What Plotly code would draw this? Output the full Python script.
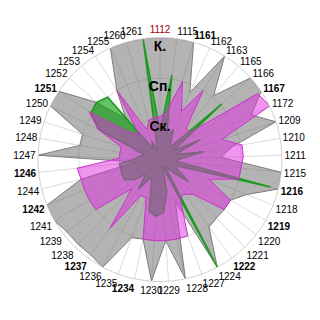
import plotly.graph_objects as go

categories = ["1112", "1115", "1161", "1162", "1163", "1165", "1166", "1167", "1172", "1209",
              "1210", "1211", "1215", "1216", "1218", "1219", "1220", "1221", "1222", "1224",
              "1227", "1228", "1229", "1230", "1234", "1235", "1236", "1237", "1238", "1239",
              "1241", "1242", "1244", "1246", "1247", "1248", "1249", "1250", "1251", "1252",
              "1253", "1254", "1255", "1260", "1261"]
bold_ticks = ["1161", "1167", "1216", "1219", "1222", "1234", "1237", "1242", "1246", "1251"]
red_ticks = ["1112"]

# К. (grey)
k_values = [3.0, 3.0, 3.0, 1.8, 3.0, 2.05, 3.0, 3.0, 2.5, 3.0,
            1.8, 1.5, 3.0, 3.0, 2.3, 2.0, 2.0, 2.0, 2.05, 3.0,
            1.1, 3.0, 2.0, 3.0, 2.0, 2.05, 3.0, 2.9, 2.9, 2.9,
            3.0, 3.0, 2.0, 0.6, 3.0, 2.0, 2.0, 3.0, 3.0, 2.1,
            1.3, 2.0, 3.0, 3.0, 3.0]
# Ск. (green)
sk_values = [0.7, 2.1, 0.6, 0.8, 0.5, 0.4, 2.05, 0.4, 1.1, 0.4,
             1.1, 0.5, 0.4, 2.8, 0.4, 0.5, 0.9, 0.4, 0.2, 3.0,
             0.2, 0.8, 1.3, 1.4, 1.3, 0.6, 0.5, 0.9, 0.5, 0.8,
             1.0, 1.0, 1.0, 1.0, 0.6, 0.5, 0.4, 1.65, 2.05, 2.1,
             2.0, 0.3, 0.5, 0.2, 3.0]
# Сп. (magenta)
sp_values = [1.05, 1.2, 2.0, 1.3, 2.0, 1.0, 1.0, 2.9, 3.0, 1.6,
             2.05, 2.05, 2.0, 2.0, 1.3, 2.0, 2.0, 1.2, 1.05, 1.05,
             2.0, 2.0, 2.0, 2.0, 2.0, 1.0, 1.0, 2.1, 1.0, 2.0,
             2.0, 2.0, 2.0, 2.05, 1.0, 1.0, 1.0, 1.7, 2.1, 1.0,
             0.8, 2.0, 0.8, 1.0, 1.05]
level_labels = ["Ск.", "Сп.", "К."]
level_values = [0.78, 1.77, 2.76]


def closed(v):
    return list(v) + list(v[:1])


theta = closed(categories)

tick_text = []
for c in categories:
    if c in red_ticks:
        tick_text.append("<span style='color:#a00000'>" + c + "</span>")
    elif c in bold_ticks:
        tick_text.append("<b>" + c + "</b>")
    else:
        tick_text.append(c)

fig = go.Figure()
fig.add_trace(go.Scatterpolar(r=closed(k_values), theta=theta, mode="lines", fill="toself",
                              fillcolor="rgba(110,110,110,0.52)",
                              line=dict(color="#7c7c7c", width=1)))
fig.add_trace(go.Scatterpolar(r=closed(sk_values), theta=theta, mode="lines", fill="toself",
                              fillcolor="rgba(0,155,0,0.6)",
                              line=dict(color="#1e9a1e", width=1.5)))
fig.add_trace(go.Scatterpolar(r=closed(sp_values), theta=theta, mode="lines", fill="toself",
                              fillcolor="rgba(225,45,225,0.5)",
                              line=dict(color="#cc33cc", width=1)))
fig.add_trace(go.Scatterpolar(r=level_values, theta=[categories[0]] * 3, mode="text",
                              text=["<b>" + t + "</b>" for t in level_labels],
                              textposition="middle center",
                              textfont=dict(family="Arial", size=14, color="black")))

fig.update_layout(
    width=320, height=320, margin=dict(l=0, r=0, t=0, b=0),
    showlegend=False, paper_bgcolor="white",
    polar=dict(
        domain=dict(x=[38 / 320, 282 / 320], y=[38.5 / 320, 282.5 / 320]),
        bgcolor="white",
        angularaxis=dict(type="category", categoryarray=categories, direction="clockwise",
                         rotation=90, tickvals=categories, ticktext=tick_text, ticks="",
                         tickfont=dict(family="Arial", size=10, color="black"),
                         gridcolor="#dcdcdc", linecolor="#d0d0d0", showline=True),
        radialaxis=dict(range=[0, 3], tickvals=[1, 2, 3], showticklabels=False, ticks="",
                        gridcolor="#dcdcdc", showline=False),
    ),
)
fig.write_html("out.html")
